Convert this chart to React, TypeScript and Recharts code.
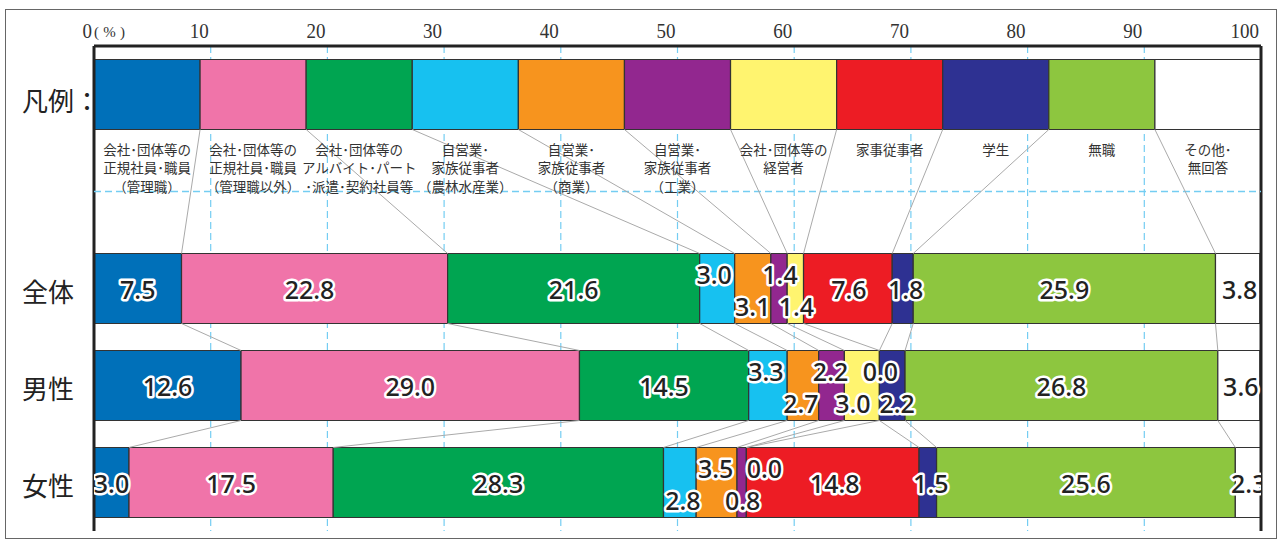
import React from 'react';
import {
  BarChart,
  Bar,
  XAxis,
  YAxis,
  CartesianGrid,
  ReferenceLine,
  ScatterChart,
  Scatter,
} from 'recharts';

// ---------- data ----------
const rowLabels = ['凡例：', ' ', '全体', '男性', '女性'];

const categoryNames: string[][] = [
  ['会社･団体等の', '正規社員･職員', '（管理職）'],
  ['会社･団体等の', '正規社員･職員', '（管理職以外）'],
  ['会社･団体等の', 'アルバイト･パート', '･派遣･契約社員等'],
  ['自営業･', '家族従事者', '（農林水産業）'],
  ['自営業･', '家族従事者', '（商業）'],
  ['自営業･', '家族従事者', '（工業）'],
  ['会社･団体等の', '経営者'],
  ['家事従事者'],
  ['学生'],
  ['無職'],
  ['その他･', '無回答'],
];

const totalValues = [7.5, 22.8, 21.6, 3.0, 3.1, 1.4, 1.4, 7.6, 1.8, 25.9, 3.8];
const maleValues = [12.6, 29.0, 14.5, 3.3, 2.7, 2.2, 3.0, 0.0, 2.2, 26.8, 3.6];
const femaleValues = [3.0, 17.5, 28.3, 2.8, 3.5, 0.8, 0.0, 14.8, 1.5, 25.6, 2.3];

const xTicks = [0, 10, 20, 30, 40, 50, 60, 70, 80, 90, 100];

// legend row: eleven equal boxes
const legendBox = 100 / categoryNames.length;

// ---------- style ----------
const colors = [
  '#0070b9', '#f074a9', '#00a551', '#17c1f0', '#f7941e', '#92278f',
  '#fff46f', '#ed1c24', '#2e3192', '#8dc63f', '#ffffff',
];

// label placement per data row: c = centre, u = upper, d = lower
const labelPlacement = [
  ['c', 'c', 'c', 'u', 'd', 'u', 'd', 'c', 'c', 'c', 'c'],
  ['c', 'c', 'c', 'u', 'd', 'u', 'd', 'u', 'd', 'c', 'c'],
  ['c', 'c', 'c', 'd', 'u', 'd', 'u', 'c', 'c', 'c', 'c'],
];
const labelShift = [
  [0, -5, 0, -3, 0, 1, 1, 1, 3, 0, 2],
  [0, 0, 0, -2, -2, -1, -9, 1, 5, 0, 2],
  [0, 0, 0, 3, -1, 1, 18, 2, 3, 0, 0],
];

const W = 1277;
const H = 540;
const GAP = 0.139; // barCategoryGap fraction on each side of a band
const PLOT_MARGIN = { top: 46, right: 16, bottom: 9, left: 94 };
const GRID_BLUE = '#74cdf2';

const valueRows = [totalValues, maleValues, femaleValues];
const keys = categoryNames.map((_, i) => `s${i}`);

const data = rowLabels.map((name, r) => {
  const row: any = { name };
  keys.forEach((k, i) => {
    row[k] = r === 0 ? legendBox : r === 1 ? null : valueRows[r - 2][i];
  });
  return row;
});

const cumulative = (arr: number[]) => {
  const out: number[] = [];
  let s = 0;
  arr.forEach((v) => {
    s += v;
    out.push(s);
  });
  return out;
};

const legendEdges = cumulative(categoryNames.map(() => legendBox));
const rowEdges = valueRows.map(cumulative);

// connector segments between consecutive bars (bottom edge -> next top edge)
const connectors: { x1: number; y1: number; x2: number; y2: number }[] = [];
for (let i = 0; i < categoryNames.length - 1; i++) {
  connectors.push({ x1: legendEdges[i], y1: 1 - GAP, x2: rowEdges[0][i], y2: 2 + GAP });
  connectors.push({ x1: rowEdges[0][i], y1: 3 - GAP, x2: rowEdges[1][i], y2: 3 + GAP });
  connectors.push({ x1: rowEdges[1][i], y1: 4 - GAP, x2: rowEdges[2][i], y2: 4 + GAP });
}

// legend captions sit under each legend box
const legendPoints = categoryNames.map((lines, i) => ({
  x: legendEdges[i] - legendBox / 2,
  y: 1 - GAP,
  lines,
}));

// value labels at the middle of each segment
const labelPoints: any[] = [];
valueRows.forEach((vals, r) => {
  const ends = rowEdges[r];
  vals.forEach((v, i) => {
    labelPoints.push({
      x: ends[i] - v / 2,
      y: r + 2.5,
      text: v.toFixed(1),
      place: labelPlacement[r][i],
      shift: labelShift[r][i],
    });
  });
});

const XTick = (props: any) => {
  const { x, y, payload } = props;
  const s = String(payload.value);
  return (
    <g>
      <text
        x={x - 2}
        y={y - 8}
        textAnchor="end"
        fontFamily="'Liberation Serif', serif"
        fontSize={21}
        fill="#333"
        textLength={s.length * 9.5}
        lengthAdjust="spacingAndGlyphs"
      >
        {s}
      </text>
      {payload.value === 0 && (
        <text
          x={x}
          y={y - 9}
          textAnchor="start"
          fontFamily="'Liberation Serif', serif"
          fontSize={15}
          fill="#333"
          textLength={31}
          lengthAdjust="spacing"
        >
          (%)
        </text>
      )}
    </g>
  );
};

const YTick = (props: any) => {
  const { x, y, payload } = props;
  return (
    <text
      x={x - 72}
      y={y}
      dy={payload.value === rowLabels[0] ? 5 : 2}
      textAnchor="start"
      dominantBaseline="central"
      fontFamily="'Noto Sans CJK JP', sans-serif"
      fontSize={26}
      fill="#222"
    >
      {payload.value}
    </text>
  );
};

const LegendCaption = (props: any) => {
  const { cx, cy, payload } = props;
  const lines: string[] = payload.lines;
  return (
    <g>
      {lines.map((ln, k) => (
        <text
          key={k}
          x={cx}
          y={cy + 19 + k * 18.5}
          textAnchor="middle"
          dominantBaseline="central"
          fontFamily="'Noto Sans CJK JP', sans-serif"
          fontSize={13.5}
          fill="#333"
        >
          {ln}
        </text>
      ))}
    </g>
  );
};

const ValueLabel = (props: any) => {
  const { cx, cy, payload } = props;
  const dy = payload.place === 'u' ? -15 : payload.place === 'd' ? 17 : 0;
  return (
    <text
      x={cx + payload.shift}
      y={cy + dy}
      textAnchor="middle"
      dominantBaseline="central"
      fontFamily="'Noto Sans', sans-serif"
      fontWeight={500}
      fontSize={25}
      fill="#222"
      stroke="#fff"
      strokeWidth={5}
      strokeLinejoin="round"
      paintOrder="stroke"
    >
      {payload.text}
    </text>
  );
};

export default function App() {
  return (
    <div style={{ position: 'absolute', left: 0, top: 0, width: W, height: H, background: '#fff' }}>
      <div
        style={{
          position: 'absolute',
          left: 5,
          top: 9,
          width: 1270,
          height: 528,
          border: '1.5px solid #666',
        }}
      />
      <div style={{ position: 'absolute', left: 0, top: 0 }}>
        <BarChart
          width={W}
          height={H}
          data={data}
          layout="vertical"
          margin={{ top: 16, right: 16, bottom: 9, left: 14 }}
          barCategoryGap={`${GAP * 100}%`}
        >
          <CartesianGrid vertical horizontal={false} stroke={GRID_BLUE} strokeDasharray="7 4" strokeWidth={1.2} />
          <XAxis
            type="number"
            orientation="top"
            domain={[0, 100]}
            ticks={xTicks}
            allowDataOverflow
            height={30}
            tickLine={false}
            tickSize={0}
            tickMargin={0}
            axisLine={{ stroke: '#222', strokeWidth: 3 }}
            tick={<XTick />}
            interval={0}
          />
          <YAxis
            type="category"
            dataKey="name"
            width={80}
            tickLine={false}
            tickSize={0}
            tickMargin={0}
            axisLine={{ stroke: '#222', strokeWidth: 3 }}
            tick={<YTick />}
            interval={0}
          />
          {keys.map((k, i) => (
            <Bar
              key={k}
              dataKey={k}
              stackId="a"
              fill={colors[i]}
              stroke="#333"
              strokeWidth={1.2}
              isAnimationActive={false}
            />
          ))}
          <ReferenceLine x={100} stroke="#222" strokeWidth={3} />
        </BarChart>
      </div>
      <div style={{ position: 'absolute', left: 0, top: 0, pointerEvents: 'none' }}>
        <ScatterChart width={W} height={H} margin={PLOT_MARGIN}>
          <XAxis type="number" dataKey="x" domain={[0, 100]} hide allowDataOverflow />
          <YAxis type="number" dataKey="y" domain={[0, rowLabels.length]} reversed hide allowDataOverflow />
          <ReferenceLine y={1.5} stroke={GRID_BLUE} strokeDasharray="7 4" strokeWidth={1.5} />
          {connectors.map((c, i) => (
            <ReferenceLine
              key={`c${i}`}
              segment={[
                { x: c.x1, y: c.y1 },
                { x: c.x2, y: c.y2 },
              ]}
              stroke="#aaa"
              strokeWidth={1}
              ifOverflow="visible"
            />
          ))}
          <Scatter
            data={legendPoints}
            shape={(p: any) => <LegendCaption {...p} />}
            isAnimationActive={false}
          />
          <Scatter
            data={labelPoints}
            shape={(p: any) => <ValueLabel {...p} />}
            isAnimationActive={false}
          />
        </ScatterChart>
      </div>
    </div>
  );
}
